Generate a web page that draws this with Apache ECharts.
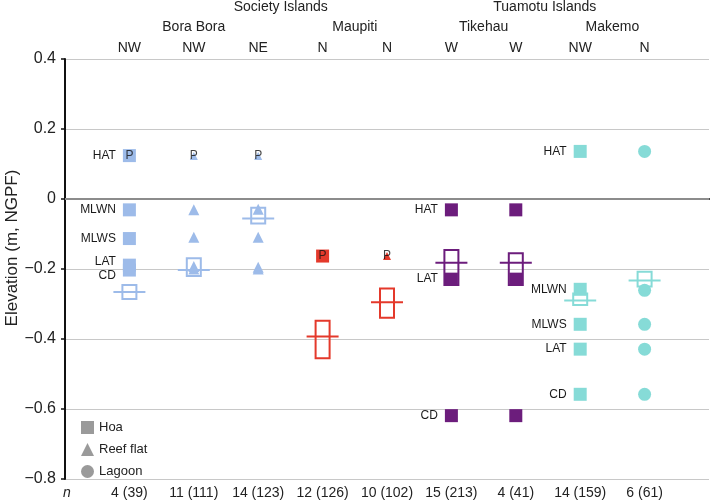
<!DOCTYPE html>
<html>
<head>
<meta charset="utf-8">
<script src="https://cdn.jsdelivr.net/npm/echarts@6/dist/echarts.min.js"></script>
<style>
  html, body { margin: 0; padding: 0; background: #fff; }
  #main { width: 712px; height: 500px; }
</style>
</head>
<body>
<div id="main"></div>
<script>
// site columns, left to right
const directions = ['NW', 'NW', 'NE', 'N', 'N', 'W', 'W', 'NW', 'N'];
const nLabels = ['4 (39)', '11 (111)', '14 (123)', '12 (126)', '10 (102)', '15 (213)', '4 (41)', '14 (159)', '6 (61)'];
const habitats = ['Hoa', 'Reef flat', 'Reef flat', 'Hoa', 'Reef flat', 'Hoa', 'Hoa', 'Hoa', 'Lagoon'];
const islands = ['Bora Bora', 'Maupiti', 'Tikehau', 'Makemo'];
const islandPos = [2, 4.5, 6.5, 8.5];
const archipelagos = ['Society Islands', 'Tuamotu Islands'];
const archPos = [3.35, 7.45];

// tidal datums (m, NGPF) per column
const datumNames = ['HAT', 'MLWN', 'MLWS', 'LAT', 'CD'];
const hat  = [0.124, 0.123, 0.123, -0.163, -0.163, -0.031, -0.031, 0.136, 0.136];
const mlwn = [-0.031, -0.031, -0.029, null, null, null, null, -0.258, -0.261];
const mlws = [-0.113, -0.109, -0.109, null, null, null, null, -0.358, -0.358];
const lat  = [-0.189, -0.193, -0.195, null, null, -0.229, -0.229, -0.429, -0.429];
const cd   = [-0.203, -0.200, -0.200, null, null, -0.619, -0.619, -0.558, -0.558];
const pMarked = [true, true, true, true, true, false, false, false, false];

// measured elevations: box top / bottom and mean line
const boxTop    = [-0.246, -0.169, -0.025, -0.348, -0.256, -0.146, -0.155, -0.270, -0.208];
const boxBottom = [-0.286, -0.220, -0.070, -0.455, -0.339, -0.246, -0.246, -0.303, -0.250];
const boxMean   = [-0.266, -0.203, -0.056, -0.393, -0.295, -0.182, -0.182, -0.290, -0.233];

const yTicks = [0.4, 0.2, 0, -0.2, -0.4, -0.6, -0.8];

const labelCols = [0, 5, 7];
const colColors = ['#9dbbe9', '#9dbbe9', '#9dbbe9', '#e4392b', '#e4392b', '#6c1d7c', '#6c1d7c', '#86dbd7', '#86dbd7'];
const FONT = '"Liberation Sans", Arial, Helvetica, sans-serif';

const datumArrays = [hat, mlwn, mlws, lat, cd];
const symbolOf = { 'Hoa': 'rect', 'Reef flat': 'triangle', 'Lagoon': 'circle' };

function habitatData(hab) {
    const out = [];
    directions.forEach((d, c) => {
        if (habitats[c] !== hab) return;
        datumArrays.forEach((arr, k) => {
            const v = arr[c];
            if (v === null) return;
            let size = hab === 'Reef flat' ? 11 : 13;
            if (pMarked[c] && k === 0 && hab === 'Reef flat') size = 8;
            const item = {
                value: [c + 1, v],
                symbolSize: size,
                itemStyle: { color: colColors[c], opacity: 1 }
            };
            if (labelCols.includes(c)) {
                let dy = 0;
                if (c === 0 && datumNames[k] === 'LAT') dy = -3;
                if (c === 0 && datumNames[k] === 'CD') dy = 6;
                item.label = {
                    show: true, position: 'left', distance: 7,
                    formatter: datumNames[k], offset: [0, dy],
                    fontSize: 12, color: '#1a1a1a', fontFamily: FONT
                };
            }
            out.push(item);
        });
    });
    return out;
}

const pData = [];
pMarked.forEach((p, c) => { if (p) pData.push([c + 1, hat[c]]); });

const boxData = boxTop.map((t, i) => [i + 1, t, boxBottom[i], boxMean[i]]);

const chart = echarts.init(document.getElementById('main'));

const habitatSeries = ['Hoa', 'Reef flat', 'Lagoon'].map(h => ({
    name: h,
    type: 'scatter',
    symbol: symbolOf[h],
    itemStyle: { color: '#9a9a9a', opacity: 1 },
    data: habitatData(h),
    z: 3
}));

chart.setOption({
    animation: false,
    textStyle: { fontFamily: FONT },
    grid: { left: 65, right: 0, top: 59, bottom: 21 },
    legend: {
        left: 76, top: 416, orient: 'vertical',
        itemWidth: 13, itemHeight: 13, itemGap: 9,
        selectedMode: false,
        textStyle: { fontSize: 13, color: '#222', fontFamily: FONT },
        data: [
            { name: 'Hoa', icon: 'rect' },
            { name: 'Reef flat', icon: 'triangle' },
            { name: 'Lagoon', icon: 'circle' }
        ]
    },
    xAxis: [
        {
            type: 'value', min: 0, max: 10, interval: 1,
            position: 'bottom',
            axisLine: { show: true, lineStyle: { color: '#111', width: 2 } },
            axisTick: { show: false },
            splitLine: { show: false },
            axisLabel: {
                margin: 7, fontSize: 14, color: '#222',
                formatter: v => v === 0 ? '{i|n}' : (nLabels[v - 1] || ''),
                rich: { i: { fontStyle: 'italic', fontSize: 14, color: '#222', padding: [0, 0, 0, 4] } }
            }
        },
        {
            type: 'value', min: 0, max: 10, interval: 1,
            position: 'top',
            axisLine: { show: false },
            axisTick: { show: false },
            splitLine: { show: false },
            axisLabel: {
                margin: 4, fontSize: 14, color: '#222',
                formatter: v => directions[v - 1] || ''
            }
        }
    ],
    yAxis: {
        type: 'value', min: -0.8, max: 0.4, interval: 0.2,
        axisLine: { show: true, lineStyle: { color: '#111', width: 2 } },
        axisTick: { show: true, length: 4, lineStyle: { color: '#111', width: 1.5 } },
        splitLine: { show: true, lineStyle: { color: '#c8c8c8', width: 1.2 } },
        axisLabel: {
            margin: 9, fontSize: 16, color: '#222',
            formatter: v => {
                const r = Math.round(v * 10) / 10;
                if (!yTicks.includes(r)) return '';
                return r === 0 ? '0' : (r < 0 ? '\u2212' + Math.abs(r).toFixed(1) : r.toFixed(1));
            }
        }
    },
    series: [
        ...habitatSeries,
        {
            name: 'P',
            type: 'scatter',
            symbolSize: 0,
            data: pData,
            label: {
                show: true, position: 'inside', formatter: 'P',
                fontSize: 12, color: '#111', fontFamily: FONT
            },
            z: 4
        },
        {
            name: 'elevation',
            type: 'custom',
            encode: { x: 0, y: [1, 2, 3] },
            data: boxData,
            z: 5,
            renderItem: (params, api) => {
                const x = api.value(0);
                const top = api.coord([x, api.value(1)]);
                const bot = api.coord([x, api.value(2)]);
                const mid = api.coord([x, api.value(3)]);
                const color = colColors[params.dataIndex];
                return {
                    type: 'group',
                    children: [
                        {
                            type: 'rect',
                            shape: { x: top[0] - 7, y: top[1], width: 14, height: bot[1] - top[1] },
                            style: { fill: 'none', stroke: color, lineWidth: 2 }
                        },
                        {
                            type: 'line',
                            shape: { x1: mid[0] - 16, y1: mid[1], x2: mid[0] + 16, y2: mid[1] },
                            style: { stroke: color, lineWidth: 2 }
                        }
                    ]
                };
            },
            markLine: {
                silent: true, symbol: 'none', label: { show: false },
                lineStyle: { color: '#8c8c8c', width: 2, type: 'solid' },
                data: [{ yAxis: 0 }]
            }
        }
    ]
});

// header rows (island names and archipelagos) placed over their columns
const headerText = (text, pos, y) => ({
    type: 'text',
    x: chart.convertToPixel({ xAxisIndex: 0 }, pos),
    y: y,
    style: {
        text: text, fontSize: 14, fill: '#222', fontFamily: FONT,
        textAlign: 'center', textVerticalAlign: 'middle'
    }
});

chart.setOption({
    graphic: [
        ...islands.map((s, i) => headerText(s, islandPos[i], 27)),
        ...archipelagos.map((s, i) => headerText(s, archPos[i], 7)),
        {
            type: 'text',
            x: 12, y: 248, rotation: Math.PI / 2,
            style: {
                text: 'Elevation (m, NGPF)', fontSize: 17, fill: '#222', fontFamily: FONT,
                textAlign: 'center', textVerticalAlign: 'middle'
            }
        }
    ]
});
</script>
</body>
</html>
